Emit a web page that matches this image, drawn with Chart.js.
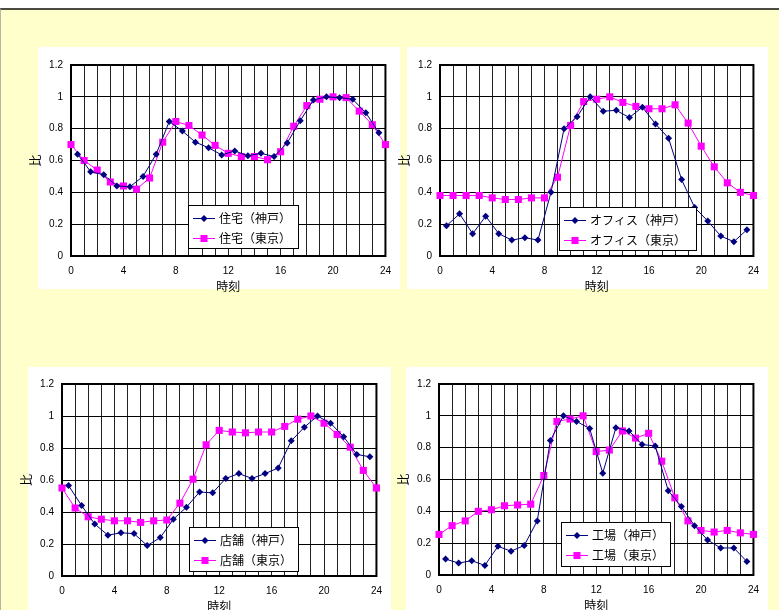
<!DOCTYPE html>
<html lang="ja">
<head>
<meta charset="utf-8">
<title>時刻別の比</title>
<script src="https://cdn.jsdelivr.net/npm/chart.js@4.4.0/dist/chart.umd.min.js"></script>
<style>
  html, body { margin: 0; padding: 0; }
  body { width: 779px; height: 610px; position: relative; overflow: hidden; background: #fff; }
  #sheet {
    position: absolute; left: 0; top: 8px; width: 779px; height: 602px;
    background: #ffffcc; border-top: 2px solid #4b4b3f; border-left: 1px solid #b8b8a0;
    box-sizing: border-box;
  }
  canvas { position: absolute; }
</style>
</head>
<body>
<div id="sheet"></div>
<canvas id="chartResidential"></canvas>
<canvas id="chartOffice"></canvas>
<canvas id="chartShop"></canvas>
<canvas id="chartFactory"></canvas>
<script>
// Hours: Kobe is sampled on the half hour, Tokyo on the hour
const hoursKobe = [0.5, 1.5, 2.5, 3.5, 4.5, 5.5, 6.5, 7.5, 8.5, 9.5, 10.5, 11.5,
                   12.5, 13.5, 14.5, 15.5, 16.5, 17.5, 18.5, 19.5, 20.5, 21.5, 22.5, 23.5];
const hoursTokyo = [0, 1, 2, 3, 4, 5, 6, 7, 8, 9, 10, 11, 12,
                    13, 14, 15, 16, 17, 18, 19, 20, 21, 22, 23, 24];
const xTickLabels = [0, 4, 8, 12, 16, 20, 24];
const yTickLabels = ['0', '0.2', '0.4', '0.6', '0.8', '1', '1.2'];

const residentialKobe = [0.64, 0.53, 0.51, 0.44, 0.435, 0.50, 0.64, 0.845, 0.785, 0.715, 0.68, 0.635,
                         0.66, 0.63, 0.645, 0.625, 0.71, 0.85, 0.98, 1.0, 0.995, 0.985, 0.90, 0.775];
const residentialTokyo = [0.70, 0.60, 0.54, 0.465, 0.44, 0.42, 0.49, 0.715, 0.845, 0.82, 0.76, 0.695, 0.645,
                          0.625, 0.625, 0.605, 0.655, 0.815, 0.945, 0.985, 1.0, 0.995, 0.91, 0.825, 0.70];

const officeKobe = [0.19, 0.265, 0.14, 0.25, 0.14, 0.10, 0.115, 0.10, 0.40, 0.80, 0.875, 1.0,
                    0.91, 0.915, 0.87, 0.935, 0.83, 0.74, 0.48, 0.305, 0.22, 0.125, 0.09, 0.165];
const officeTokyo = [0.38, 0.38, 0.38, 0.38, 0.365, 0.355, 0.355, 0.365, 0.365, 0.495, 0.82, 0.97, 0.985,
                     1.0, 0.965, 0.94, 0.925, 0.925, 0.95, 0.835, 0.69, 0.56, 0.46, 0.40, 0.38];

const shopKobe = [0.565, 0.44, 0.325, 0.255, 0.27, 0.265, 0.19, 0.24, 0.355, 0.43, 0.525, 0.52,
                  0.61, 0.64, 0.61, 0.64, 0.675, 0.845, 0.93, 1.0, 0.955, 0.87, 0.76, 0.745];
const shopTokyo = [0.55, 0.425, 0.37, 0.355, 0.345, 0.345, 0.335, 0.345, 0.35, 0.455, 0.605, 0.82, 0.91,
                   0.90, 0.895, 0.90, 0.90, 0.935, 0.98, 1.0, 0.955, 0.885, 0.805, 0.66, 0.55];

const factoryKobe = [0.10, 0.075, 0.09, 0.06, 0.18, 0.15, 0.185, 0.34, 0.845, 1.0, 0.965, 0.92,
                     0.64, 0.925, 0.905, 0.82, 0.81, 0.53, 0.43, 0.31, 0.22, 0.17, 0.17, 0.085];
const factoryTokyo = [0.255, 0.31, 0.34, 0.40, 0.41, 0.435, 0.44, 0.445, 0.625, 0.965, 0.98, 1.0, 0.775,
                      0.785, 0.905, 0.86, 0.89, 0.715, 0.485, 0.34, 0.28, 0.27, 0.28, 0.265, 0.255];

const categories = ['住宅', 'オフィス', '店舗', '工場'];
const cities = ['神戸', '東京'];

const TICK_FONT = { family: '"Liberation Sans", Arial, sans-serif', size: 10 };
const CJK_FONT = '"Noto Sans CJK JP", "Noto Sans", sans-serif';

// page geometry of each panel: white box, plot area and legend box
const layouts = {
    chartResidential: { panel: [38, 47, 362, 242], plot: [71, 65, 391, 256], legend: [188, 205, 110, 43] },
    chartOffice:      { panel: [407, 47, 361, 242], plot: [440, 65, 760, 256], legend: [559, 207, 137, 43] },
    chartShop:        { panel: [28, 367, 363, 260], plot: [62, 384, 383, 576], legend: [189, 527, 109, 44] },
    chartFactory:     { panel: [406, 367, 362, 260], plot: [439, 384, 760, 575], legend: [561, 522, 109, 44] }
};

function toPoints(hours, values) {
    return values.map((v, i) => ({ x: hours[i], y: v }));
}

// white panel, plot frame and the boxed legend
const panelPlugin = {
    id: 'panel',
    beforeDraw(chart, args, opts) {
        const ctx = chart.ctx;
        const p = opts.panel;
        ctx.save();
        ctx.fillStyle = '#ffffff';
        ctx.fillRect(p[0], p[1], p[2], p[3]);
        ctx.restore();
    },
    beforeDatasetsDraw(chart) {
        const ctx = chart.ctx;
        const a = chart.chartArea;
        ctx.save();
        ctx.strokeStyle = '#000';
        ctx.lineWidth = 2;
        ctx.strokeRect(a.left, a.top, a.right - a.left, a.bottom - a.top);
        ctx.restore();
    },
    afterDraw(chart, args, opts) {
        const ctx = chart.ctx;
        const b = opts.legend;
        ctx.save();
        ctx.fillStyle = '#fff';
        ctx.fillRect(b[0], b[1], b[2], b[3]);
        ctx.strokeStyle = '#000';
        ctx.lineWidth = 1;
        ctx.strokeRect(b[0] + 0.5, b[1] + 0.5, b[2], b[3]);
        ctx.font = '12px ' + CJK_FONT;
        ctx.textBaseline = 'middle';
        chart.data.datasets.forEach((ds, i) => {
            const y = Math.round(b[1] + 13 + i * 20) + 0.5;
            const x0 = b[0] + 5, x1 = b[0] + 27;
            ctx.strokeStyle = ds.borderColor;
            ctx.lineWidth = ds.borderWidth;
            ctx.beginPath();
            ctx.moveTo(x0, y);
            ctx.lineTo(x1, y);
            ctx.stroke();
            ctx.fillStyle = ds.pointBackgroundColor;
            Chart.helpers.drawPoint(ctx, {
                pointStyle: ds.pointStyle, radius: ds.pointRadius, rotation: 0, borderWidth: 0
            }, (x0 + x1) / 2, y);
            ctx.fillStyle = '#000';
            ctx.fillText(ds.label, b[0] + 31, y);
        });
        ctx.restore();
    }
};

function makeChart(id, name, kobe, tokyo) {
    const g = layouts[id];
    const canvas = document.getElementById(id);
    const left = g.plot[0] - 45;
    const top = g.panel[1];
    const width = g.panel[0] + g.panel[2] - left;
    const height = g.plot[3] - top + 40;
    canvas.width = width;
    canvas.height = height;
    canvas.style.left = left + 'px';
    canvas.style.top = top + 'px';

    const rel = (r) => [r[0] - left, r[1] - top, r[2], r[3]];

    return new Chart(canvas.getContext('2d'), {
        type: 'line',
        data: {
            datasets: [{
                label: name + '（' + cities[0] + '）',
                data: toPoints(hoursKobe, kobe),
                borderColor: '#000080',
                backgroundColor: '#000080',
                pointBackgroundColor: '#000080',
                pointBorderColor: '#000080',
                pointStyle: 'rectRot',
                pointRadius: 3.5,
                pointBorderWidth: 0,
                borderWidth: 1,
                tension: 0,
                clip: false
            }, {
                label: name + '（' + cities[1] + '）',
                data: toPoints(hoursTokyo, tokyo),
                borderColor: '#ff00ff',
                backgroundColor: '#ff00ff',
                pointBackgroundColor: '#ff00ff',
                pointBorderColor: '#ff00ff',
                pointStyle: 'rect',
                pointRadius: 5,
                pointBorderWidth: 0,
                borderWidth: 1,
                tension: 0,
                clip: false
            }]
        },
        options: {
            responsive: false,
            animation: false,
            devicePixelRatio: 1,
            layout: {
                padding: {
                    left: 0,
                    top: g.plot[1] - top,
                    right: left + width - g.plot[2],
                    bottom: 0
                }
            },
            plugins: {
                legend: { display: false },
                tooltip: { enabled: false },
                panel: {
                    panel: [g.panel[0] - left, g.panel[1] - top, g.panel[2], g.panel[3]],
                    legend: rel(g.legend)
                }
            },
            scales: {
                x: {
                    type: 'linear',
                    min: 0,
                    max: 24,
                    afterFit: (scale) => { scale.height = 40; },
                    border: { display: false },
                    grid: { color: '#222', lineWidth: 1, drawTicks: false },
                    ticks: {
                        stepSize: 1,
                        autoSkip: false,
                        maxRotation: 0,
                        padding: 9,
                        color: '#000',
                        font: TICK_FONT,
                        callback: (v) => xTickLabels.includes(v) ? String(v) : ''
                    },
                    title: {
                        display: true,
                        text: '時刻',
                        color: '#000',
                        font: { family: CJK_FONT, size: 12 },
                        padding: { top: 0, bottom: 2 }
                    }
                },
                y: {
                    min: 0,
                    max: 1.2,
                    afterFit: (scale) => { scale.width = 45; },
                    border: { display: false },
                    grid: { color: '#000', lineWidth: 1, drawTicks: false },
                    ticks: {
                        stepSize: 0.2,
                        padding: 8,
                        color: '#000',
                        font: TICK_FONT,
                        callback: (v, i) => yTickLabels[i]
                    },
                    title: {
                        display: true,
                        text: '比',
                        color: '#000',
                        font: { family: CJK_FONT, size: 12 },
                        padding: { top: 2, bottom: 0 }
                    }
                }
            }
        },
        plugins: [panelPlugin]
    });
}

makeChart('chartResidential', categories[0], residentialKobe, residentialTokyo);
makeChart('chartOffice', categories[1], officeKobe, officeTokyo);
makeChart('chartShop', categories[2], shopKobe, shopTokyo);
makeChart('chartFactory', categories[3], factoryKobe, factoryTokyo);
</script>
</body>
</html>
